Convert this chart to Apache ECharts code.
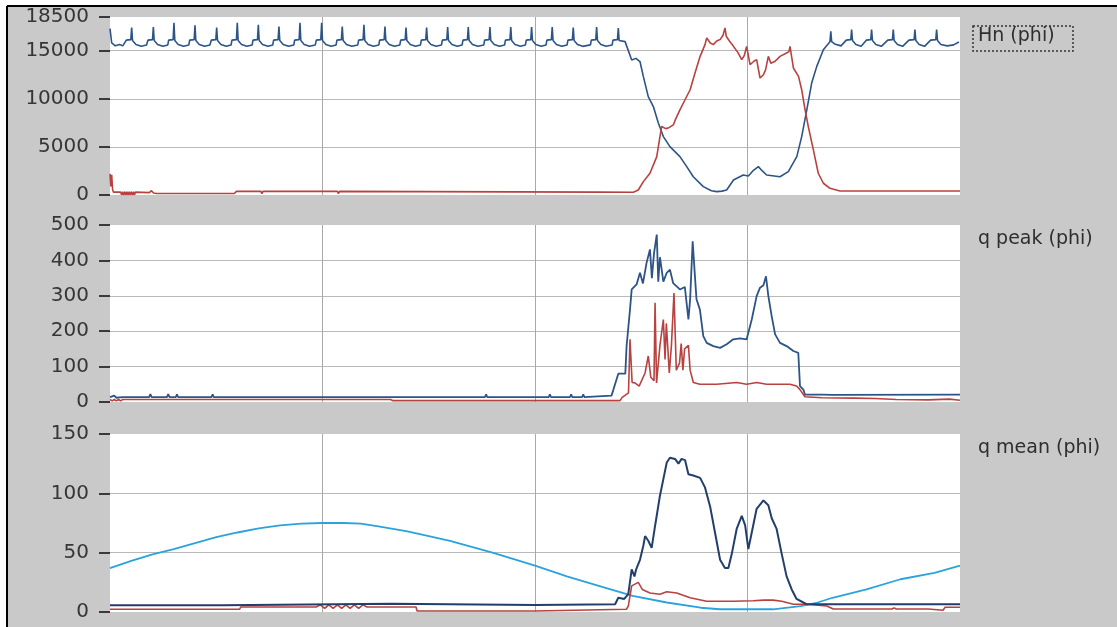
<!DOCTYPE html>
<html>
<head>
<meta charset="utf-8">
<script src="https://cdn.jsdelivr.net/npm/echarts@6/dist/echarts.min.js"></script>
<style>
html,body{margin:0;padding:0;background:#fff;}
#c{width:1117px;height:627px;}
</style>
</head>
<body>
<div id="c"></div>
<script>
// ---- data (x = sample index 0..400) ----
const panelTitles = ['Hn (phi)', 'q peak (phi)', 'q mean (phi)'];
const hnTicks = [0, 5000, 10000, 15000, 18500];
const qPeakTicks = [0, 100, 200, 300, 400, 500];
const qMeanTicks = [0, 50, 100, 150];
const xTicks = [0, 100, 200, 300, 400];

const hnBlue = [
[0,17300],[0.8,15800],[2.5,15500],[4.5,15650],[6,15500],
[7.7,16100],[9.8,16150],[10.2,17400],[10.6,16050],[12.2,15650],[14.7,15450],[17.2,15600],
[17.9,16100],[20,16150],[20.4,17450],[20.8,16050],[22.4,15650],[24.9,15450],[27.2,15600],
[27.6,16100],[29.7,16150],[30.1,17900],[30.5,16050],[32.1,15650],[34.6,15450],[37.1,15600],
[37.5,16100],[39.6,16150],[40,17650],[40.4,16050],[42,15650],[44.5,15450],[47,15600],
[47.7,16100],[49.8,16150],[50.2,17400],[50.6,16050],[52.2,15650],[54.7,15450],[57,15600],
[57.4,16100],[59.5,16150],[59.9,17900],[60.3,16050],[61.9,15650],[64.4,15450],[66.9,15600],
[67.3,16100],[69.4,16150],[69.8,17700],[70.2,16050],[71.8,15650],[74.3,15450],[76.6,15600],
[77,16100],[79.1,16150],[79.5,17500],[79.9,16050],[81.5,15650],[84,15450],[86.5,15600],
[86.9,16100],[89,16150],[89.4,17900],[89.8,16050],[91.4,15650],[93.9,15450],[96.6,15600],
[97.1,16100],[99.2,16150],[99.6,17900],[100,16050],[101.6,15650],[104.1,15450],[106.4,15600],
[106.8,16100],[108.9,16150],[109.3,17500],[109.7,16050],[111.3,15650],[113.8,15450],[116.6,15600],
[117,16100],[119.1,16150],[119.5,17700],[119.9,16050],[121.5,15650],[124,15450],[126.5,15600],
[126.9,16100],[129,16150],[129.4,17500],[129.8,16050],[131.4,15650],[133.9,15450],[136.4,15600],
[136.8,16100],[138.9,16150],[139.3,17400],[139.7,16050],[141.3,15650],[143.8,15450],[146.1,15600],
[146.5,16100],[148.6,16150],[149,17400],[149.4,16050],[151,15650],[153.5,15450],[156,15600],
[156.4,16100],[158.5,16150],[158.9,17450],[159.3,16050],[160.9,15650],[163.4,15450],[165.7,15600],
[166.1,16100],[168.2,16150],[168.6,17450],[169,16050],[170.6,15650],[173.1,15450],[175.9,15600],
[176.3,16100],[178.4,16150],[178.8,17450],[179.2,16050],[180.8,15650],[183.3,15450],[185.7,15600],
[186.1,16100],[188.2,16150],[188.6,17450],[189,16050],[190.6,15650],[193.1,15450],[195.5,15600],
[195.9,16100],[198,16150],[198.4,17450],[198.8,16050],[200.4,15650],[202.9,15450],[205.2,15600],
[205.6,16100],[207.7,16150],[208.1,17450],[208.5,16050],[210.1,15650],[212.6,15450],[215.1,15600],
[215.5,16100],[217.6,16150],[218,17400],[218.4,16050],[220,15650],[222.5,15450],[226.1,15600],
[226.5,16100],[228.6,16150],[229,17450],[229.4,16050],[231,15650],[233.5,15450],[236.3,15600],
[236.7,16100],[238.8,16150],[239.2,17350],[239.6,16050],
[242.4,15940],[245.5,14030],[247.5,14200],[249.4,13870],[251,12300],[253.3,10230],[255.7,9190],
[258,7500],[260.4,6070],[263.5,5030],[268.2,3990],[271.4,2950],[274.5,1900],[279.2,870],[283,450],
[285.5,350],[288,400],[290.2,520],[293.4,1560],[298,2080],[300.4,1980],[302.5,2500],[305.1,2950],
[307,2500],[309,2080],[315.3,1900],[319.2,2430],[323.2,3990],[325.5,6070],[327.9,8850],[330.2,11630],
[332.6,13370],[335.7,15100],[338.8,15940],[339.2,17000],[339.6,15940],[341,15700],[344,15500],
[346.5,16100],[348.6,16150],[349,17200],[349.4,16050],[351,15650],[353.5,15450],
[356,16100],[358,16150],[358.4,17200],[358.8,16050],[360.4,15650],[363,15450],
[366,16100],[368.2,16150],[368.6,17200],[369,16050],[370.6,15650],[373,15450],
[376,16100],[378.4,16150],[378.8,17200],[379.2,16050],[380.8,15650],[383.3,15450],
[386.2,16100],[388.6,16150],[389,17200],[389.4,16050],[391,15650],[394,15500],[397,15600],[399.5,15900]
];

const hnRed = [
[0,2200],[0.4,900],[0.8,2100],[1.2,600],[1.6,300],[5,300],[5.5,0],[6,350],[6.5,0],[7,350],[7.5,0],
[8,350],[8.5,0],[9,350],[9.5,0],[10,350],[10.5,0],[11,350],[11.5,0],[12,300],[18.5,250],[19.5,450],
[20.5,200],[22,150],[58.5,150],[59.5,380],[71,380],[71.5,150],[72,380],[107,380],[107.5,150],[108,380],
[230,300],[246.3,280],[248.6,520],[251,1390],[254.1,2260],[257.3,3990],[258.8,6070],[259.6,7120],
[261.5,6900],[263,7000],[265.1,7290],[266,7800],[268.2,8850],[270.6,9900],[273,10940],[275.3,12680],
[277.7,14410],[280,15630],[280.8,16320],[282.5,15800],[283.9,15630],[285.5,16000],[287.1,16150],
[288.5,16600],[289.4,17370],[290,16500],[291.5,16000],[293.4,15450],[295.5,14800],[297.3,14070],
[298.5,14500],[299.6,15450],[301.2,13540],[303,13900],[304.3,14070],[305.9,12160],[307.5,12500],
[308.5,13000],[309.8,14410],[311,13700],[313,13900],[315.3,14410],[318.4,14760],[319.5,14900],
[320,15450],[321.6,13200],[324,12330],[325.5,10940],[327.1,8850],[328.6,7120],[331,4690],[333.3,2260],
[335.7,1220],[338.8,700],[343.5,420],[400,420]
];

const qPeakBlue = [
[0,14],[2,18],[3,12],[6,14],[18.4,14],[19,22],[19.6,14],[26.8,14],[27.4,22],[28,14],[31,14],[31.5,22],
[32,14],[47.8,14],[48.3,22],[48.8,14],[176.5,14],[177,22],[177.5,14],[206.5,14],[207,22],[207.5,14],
[216.5,14],[217,22],[217.5,14],[222.2,14],[222.7,22],[223.2,14],[236,18],
[236.9,35],[239.2,80],[242.5,80],[243.1,158],[244.7,261],[245.5,318],[247.8,332],[249.4,365],[250.8,335],
[252.5,393],[254.1,431],[255,350],[256,420],[257.3,473],[258,340],[258.8,409],[260.4,340],[262,365],
[263.5,374],[265,336],[268.2,318],[270.5,325],[272.2,233],[273,290],[274.2,454],[275.3,352],[276,290],
[277.6,261],[279.2,186],[280.8,167],[283.9,158],[287.1,153],[290.2,163],[293.3,177],[296.5,180],
[299.6,177],[302,233],[304.3,299],[305.9,323],[307.5,330],[308.7,355],[309.8,300],[311.4,242],
[313,191],[315.3,167],[318.4,158],[321.6,144],[323.9,139],[324.7,45],[326.3,35],[327,21],
[334,21],[334.5,16],[335,21],[340,20],[400,21]
];

const qPeakRed = [
[0,7],[1,3],[2,7],[3,3],[4,7],[5,3],[6,7],[132,7],[133,4],[240,4],[241,13],[244,26],[244.7,177],
[245.7,55],[247,54],[249,45],[251.8,82],[253.3,130],[254.5,70],[256,60],[256.5,280],[257.2,54],
[258.8,160],[260.4,233],[261.2,120],[261.8,222],[263.2,82],[264.2,160],[265.4,308],[266.5,90],
[268,110],[268.8,165],[269.6,90],[270.4,150],[272.2,160],[273,90],[274.5,55],[277.6,50],[285.5,50],
[294.9,55],[299.6,50],[304.3,55],[309,50],[320,50],[323.1,45],[324.7,35],[327,15],[335,12],[350,11],
[360,10],[370,7],[385,6],[395,8],[400,5]
];

const qMeanBlue = [
[0,5.6],[53,5.6],[53.5,7],[132.5,7],[133,6],[200,6],[200.5,6.5],[237.7,6.5],[239.2,12],[242,11],
[243.9,15],[245.5,36],[246.8,30],[247.6,36],[249.4,44],[251,56],[251.8,64],[253.3,60],[254.9,54],
[256.5,72.5],[258.8,98],[260.4,112],[262,126],[263.5,130],[265.9,129],[267.5,125],[269,129],
[270.6,128],[272.2,116],[274.5,115],[277.7,113],[280,105],[282.4,89],[284.7,67],[287.1,44],
[289.4,37],[291,37],[292.6,49],[294.9,70],[297.3,81],[298.9,73],[300.4,53],[302,67],[304.3,87],
[307.5,94],[309.8,90],[311.4,79],[313.7,70],[316.1,49],[318.4,30],[320.8,19],[323.1,11],[326.3,8],
[328,6.5],[400,6.5]
];

const qMeanRed = [
[0,2.3],[61,2.3],[61.5,4.2],[97,4.2],[99,6],[101,3],[103,6],[105,3],[107,6],[109,3],[111,6],[113,3],
[115,6],[117,3],[119,6],[121,4.2],[144,4.2],[144.5,0.8],[200,0.8],[200.5,2.3],[243,2.3],[243.9,5],
[245.5,22],[248.6,25],[250.5,19],[254.1,16],[258.8,15],[262,17],[266.7,16],[273,12],[280.8,9],
[293.3,9],[302.7,9.5],[307.5,10],[312,10],[316.1,9],[321.6,6.5],[327.9,6.5],[337.3,5],[340.4,2.5],
[368,2.5],[369,3.5],[370,2.5],[385,2.5],[385.5,1.5],[392,1.5],[393,4],[400,4]
];

const qMeanCyan = [
[0,37],[10,43],[20,48.5],[30,53],[40,58],[50,63],[60,67],[70,70.5],[80,73],[90,74.5],[100,75],
[110,75],[118,74.5],[127,72],[140,68],[160,60],[180,50],[200,39],[215,30],[230,22],[246,13.5],
[262,8],[278,3.6],[287,2.3],[312,2.3],[325,5],[333,8],[340,12],[356,19],[372,27.6],[388,33],[400,39]
];

// ---- chart ----
const NAVY = '#2d5486', RED = '#b8423f', CYAN = '#2aa3dd', NAVY2 = '#223f6c';
const FONT = 'DejaVu Sans';
const grids = [
  {left:110, top:17, width:850, height:178},
  {left:110, top:225, width:850, height:177},
  {left:110, top:434, width:850, height:178}
];
const tickSets = [hnTicks, qPeakTicks, qMeanTicks];

function yAxisFor(i){
  const t = tickSets[i];
  return {
    type:'value', gridIndex:i, min:t[0], max:t[t.length-1], interval:t[1]-t[0],
    offset:7,
    axisLine:{show:false},
    axisTick:{show:true, length:11, lineStyle:{color:'#3a3a3a', width:2}},
    axisLabel:{margin:14, color:'#363636', fontFamily:FONT, fontSize:20,
      showMinLabel:true, showMaxLabel:true, formatter: v => String(v)},
    splitLine:{show:true, showMinLine:false, showMaxLine:false, lineStyle:{color:'#b9b9b9', width:1}}
  };
}
function xAxisFor(i){
  return {
    type:'value', gridIndex:i, min:xTicks[0], max:xTicks[xTicks.length-1], interval:xTicks[1]-xTicks[0],
    axisLine:{show:false}, axisTick:{show:false}, axisLabel:{show:false},
    splitLine:{show:true, showMinLine:false, showMaxLine:false, lineStyle:{color:'#a9a9a9', width:1}}
  };
}
function line(data, i, color, w){
  return {type:'line', xAxisIndex:i, yAxisIndex:i, data:data, showSymbol:false, symbol:'none',
    lineStyle:{color:color, width:w}, itemStyle:{color:color}, animation:false, z:3};
}

const chart = echarts.init(document.getElementById('c'), null, {renderer:'canvas'});
chart.setOption({
  backgroundColor:'#ffffff',
  animation:false,
  grid: grids.map(g => Object.assign({show:true, backgroundColor:'#ffffff', borderWidth:0}, g)),
  xAxis: [0,1,2].map(xAxisFor),
  yAxis: [0,1,2].map(yAxisFor),
  graphic: [
    {type:'rect', z:-10, silent:true, shape:{x:8, y:7, width:1109, height:620}, style:{fill:'#c9c9c9'}},
    {type:'line', z:10, silent:true, shape:{x1:7, y1:6, x2:1117, y2:6}, style:{stroke:'#000', lineWidth:2}},
    {type:'line', z:10, silent:true, shape:{x1:7, y1:6, x2:7, y2:627}, style:{stroke:'#000', lineWidth:2}},
    {type:'rect', z:10, silent:true, shape:{x:973, y:26, width:100, height:25},
      style:{fill:'none', stroke:'#333', lineWidth:1.5, lineDash:[2,2]}},
    {type:'text', z:10, silent:true, left:978, top:27, style:{text:panelTitles[0], fill:'#2e2e2e', font:'19px "DejaVu Sans"'}},
    {type:'text', z:10, silent:true, left:978, top:230, style:{text:panelTitles[1], fill:'#2e2e2e', font:'19px "DejaVu Sans"'}},
    {type:'text', z:10, silent:true, left:978, top:439, style:{text:panelTitles[2], fill:'#2e2e2e', font:'19px "DejaVu Sans"'}}
  ],
  series: [
    line(hnBlue, 0, NAVY, 1.6),
    line(hnRed, 0, RED, 1.6),
    line(qPeakBlue, 1, NAVY, 1.8),
    line(qPeakRed, 1, RED, 1.6),
    line(qMeanCyan, 2, CYAN, 1.8),
    line(qMeanRed, 2, RED, 1.6),
    line(qMeanBlue, 2, NAVY2, 2)
  ]
});
</script>
</body>
</html>
